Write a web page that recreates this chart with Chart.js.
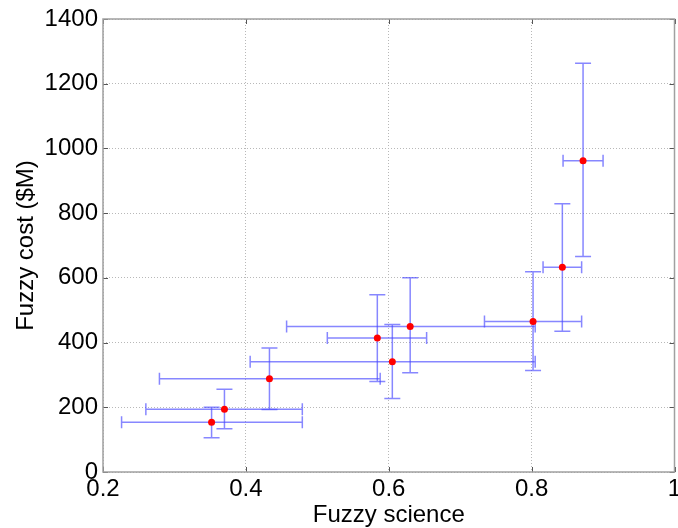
<!DOCTYPE html>
<html>
<head>
<meta charset="utf-8">
<script src="https://cdn.jsdelivr.net/npm/chart.js@4.4.1/dist/chart.umd.min.js"></script>
<style>
  html, body { margin: 0; padding: 0; background: #fff; }
  #wrap { width: 678px; height: 528px; }
</style>
</head>
<body>
<div id="wrap"><canvas id="fuzzyChart" width="678" height="528"></canvas></div>
<script>
// values
const xValues = [0.352, 0.370, 0.433, 0.584, 0.605, 0.630, 0.802, 0.843, 0.872];
const yValues = [154, 194, 288, 414, 341, 450, 465, 633, 962];
const xLower = [0.226, 0.260, 0.279, 0.514, 0.406, 0.457, 0.734, 0.816, 0.844];
const xUpper = [0.479, 0.479, 0.588, 0.653, 0.805, 0.805, 0.870, 0.870, 0.900];
const yLower = [106, 134, 193, 280, 227, 307, 314, 435, 666];
const yUpper = [200, 256, 383, 548, 456, 600, 619, 829, 1263];
const xTicks = [0.2, 0.4, 0.6, 0.8, 1];
const yTicks = [0, 200, 400, 600, 800, 1000, 1200, 1400];

const points = xValues.map((x, i) => ({ x: x, y: yValues[i] }));

// error bars, drawn under the red markers
const errorBars = {
    id: 'errorBars',
    beforeDatasetsDraw(chart) {
        const { ctx, scales: { x, y } } = chart;
        ctx.save();
        ctx.strokeStyle = 'rgba(70, 70, 255, 0.65)';
        ctx.lineWidth = 1.5;
        xValues.forEach((xv, i) => {
            const px = x.getPixelForValue(xv);
            const py = y.getPixelForValue(yValues[i]);
            const yl = y.getPixelForValue(yLower[i]);
            const yu = y.getPixelForValue(yUpper[i]);
            const xl = x.getPixelForValue(xLower[i]);
            const xu = x.getPixelForValue(xUpper[i]);
            ctx.beginPath();
            // vertical
            ctx.moveTo(px, yl); ctx.lineTo(px, yu);
            ctx.moveTo(px - 8, yl); ctx.lineTo(px + 8, yl);
            ctx.moveTo(px - 8, yu); ctx.lineTo(px + 8, yu);
            // horizontal
            ctx.moveTo(xl, py); ctx.lineTo(xu, py);
            ctx.moveTo(xl, py - 6); ctx.lineTo(xl, py + 6);
            ctx.moveTo(xu, py - 6); ctx.lineTo(xu, py + 6);
            ctx.stroke();
        });
        ctx.restore();
    }
};

// matlab style box with inward ticks
const axesBox = {
    id: 'axesBox',
    afterDraw(chart) {
        const { ctx, chartArea: a, scales: { x, y } } = chart;
        ctx.save();
        ctx.strokeStyle = '#555';
        ctx.lineWidth = 1;
        ctx.beginPath();
        xTicks.forEach(v => {
            const px = Math.round(x.getPixelForValue(v)) + 0.5;
            ctx.moveTo(px, a.bottom); ctx.lineTo(px, a.bottom - 5);
            ctx.moveTo(px, a.top); ctx.lineTo(px, a.top + 5);
        });
        yTicks.forEach(v => {
            const py = Math.round(y.getPixelForValue(v)) + 0.5;
            ctx.moveTo(a.left, py); ctx.lineTo(a.left + 5, py);
            ctx.moveTo(a.right, py); ctx.lineTo(a.right - 5, py);
        });
        ctx.stroke();
        ctx.strokeStyle = '#a0a0a0';
        ctx.lineWidth = 1.5;
        ctx.strokeRect(a.left, a.top, a.right - a.left, a.bottom - a.top);
        ctx.restore();
    }
};

const tickFont = { family: '"Liberation Sans", Arial, sans-serif', size: 24 };

new Chart(document.getElementById('fuzzyChart'), {
    type: 'scatter',
    data: {
        datasets: [{
            data: points,
            pointRadius: 3.5,
            pointHoverRadius: 3.5,
            pointBackgroundColor: '#ff0000',
            pointBorderWidth: 0
        }]
    },
    options: {
        responsive: false,
        animation: false,
        devicePixelRatio: 1,
        layout: { padding: { top: 19, right: 1, left: 0, bottom: 0 } },
        plugins: { legend: { display: false }, tooltip: { enabled: false } },
        scales: {
            x: {
                type: 'linear',
                min: 0.2,
                max: 1,
                afterBuildTicks: s => { s.ticks = xTicks.map(v => ({ value: v })); },
                afterFit: s => {
                    s.height = 56;
                    s.paddingLeft = 0;
                    s.paddingRight = 0;
                },
                ticks: {
                    color: '#000',
                    font: tickFont,
                    padding: 3,
                    maxRotation: 0,
                    callback: v => String(Number(v.toFixed(1)))
                },
                grid: { color: '#b8b8b8', drawTicks: false },
                border: { display: false, dash: [1, 2] },
                title: {
                    display: true,
                    text: 'Fuzzy science',
                    color: '#000',
                    font: tickFont,
                    padding: { top: 0, bottom: -2 }
                }
            },
            y: {
                type: 'linear',
                min: 0,
                max: 1400,
                afterBuildTicks: s => { s.ticks = yTicks.map(v => ({ value: v })); },
                afterFit: s => {
                    s.width = 103;
                    s.paddingTop = 0;
                    s.paddingBottom = 0;
                },
                ticks: { color: '#000', font: tickFont, padding: 5, callback: v => String(v) },
                grid: { color: '#b8b8b8', drawTicks: false },
                border: { display: false, dash: [1, 2] },
                title: {
                    display: true,
                    text: 'Fuzzy cost ($M)',
                    color: '#000',
                    font: tickFont,
                    padding: { top: 12, bottom: 0 }
                }
            }
        }
    },
    plugins: [errorBars, axesBox]
});
</script>
</body>
</html>
